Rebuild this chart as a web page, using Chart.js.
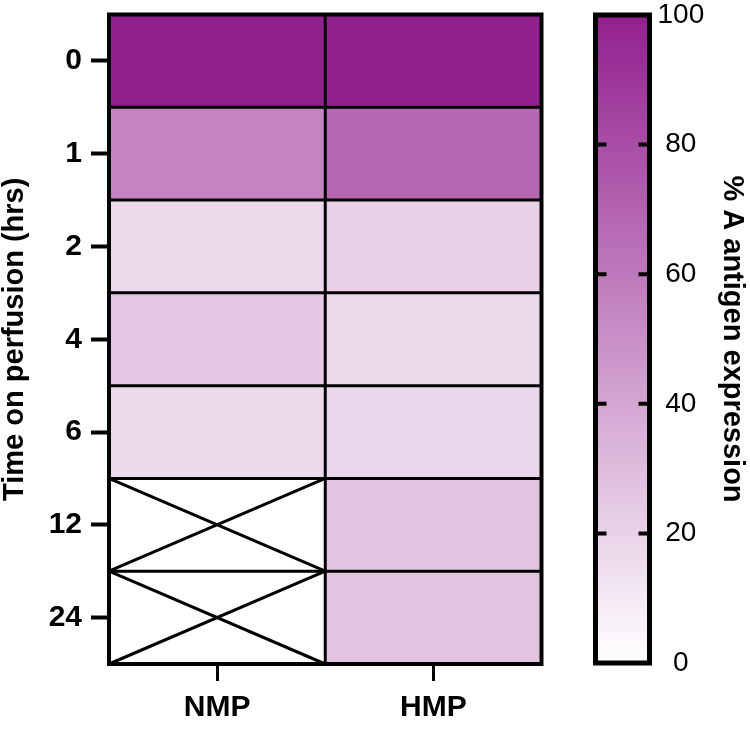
<!DOCTYPE html>
<html>
<head>
<meta charset="utf-8">
<script src="https://cdn.jsdelivr.net/npm/chart.js@4/dist/chart.umd.min.js"></script>
<style>
  html, body { margin: 0; padding: 0; background: #fff; }
  body { width: 750px; height: 730px; position: relative; overflow: hidden; }
  #heat { position: absolute; left: 0; top: 0; }
  #bar { position: absolute; left: 560px; top: 0; }
</style>
</head>
<body>
<canvas id="heat" width="560" height="730"></canvas>
<canvas id="bar" width="190" height="730"></canvas>
<script>
/* ---------- data ---------- */
const groups = ["NMP", "HMP"];
const timeLabels = ["0", "1", "2", "4", "6", "12", "24"];
const nmpValues = [100, 55, 17, 24, 17, null, null];
const hmpValues = [100, 68, 21, 17, 18, 26, 26];
const scaleTicks = [0, 20, 40, 60, 80, 100];

const LOW = [255, 255, 255];
const HIGH = [146, 32, 143];
const FONT = "'Liberation Sans', Arial, Helvetica, sans-serif";

Chart.defaults.font.family = FONT;
Chart.defaults.color = "#000";

const colorFor = (v) => {
  if (v == null) return "rgba(0,0,0,0)";
  const t = Math.max(0, Math.min(1, v / 100));
  const c = LOW.map((lo, k) => Math.round(lo + (HIGH[k] - lo) * t));
  return `rgb(${c[0]},${c[1]},${c[2]})`;
};

const columns = [nmpValues, hmpValues];

// stop chart.js from adding room for half-labels at the ends
const noEdgePad = (s) => { s.paddingTop = 0; s.paddingBottom = 0; s.paddingLeft = 0; s.paddingRight = 0; };

/* ---------- heatmap ---------- */
const gridPlugin = {
  id: "cellGrid",
  afterDatasetsDraw(chart) {
    const { ctx, chartArea: a, scales: { x, y } } = chart;
    ctx.save();
    ctx.strokeStyle = "#000";
    ctx.lineCap = "butt";

    // missing cells get a cross
    ctx.lineWidth = 3;
    columns.forEach((vals, j) => {
      vals.forEach((v, i) => {
        if (v != null) return;
        const x0 = x.getPixelForValue(j - 0.5), x1 = x.getPixelForValue(j + 0.5);
        const y0 = y.getPixelForValue(i), y1 = y.getPixelForValue(i + 1);
        ctx.beginPath();
        ctx.moveTo(x0, y0); ctx.lineTo(x1, y1);
        ctx.moveTo(x1, y0); ctx.lineTo(x0, y1);
        ctx.stroke();
      });
    });

    // cell borders
    ctx.lineWidth = 3;
    ctx.beginPath();
    for (let i = 1; i < timeLabels.length; i++) {
      const py = y.getPixelForValue(i);
      ctx.moveTo(a.left, py); ctx.lineTo(a.right, py);
    }
    for (let j = 1; j < groups.length; j++) {
      const px = x.getPixelForValue(j - 0.5);
      ctx.moveTo(px, a.top); ctx.lineTo(px, a.bottom);
    }
    ctx.stroke();

    ctx.lineWidth = 4;
    ctx.strokeRect(a.left, a.top, a.right - a.left, a.bottom - a.top);
    ctx.restore();
  },
};

new Chart(document.getElementById("heat"), {
  type: "bar",
  data: {
    labels: groups,
    datasets: timeLabels.map((t, i) => ({
      label: t,
      data: columns.map((vals) => (vals[i] == null ? null : [i, i + 1])),
      backgroundColor: columns.map((vals) => colorFor(vals[i])),
      borderWidth: 0,
      grouped: false,
      barPercentage: 1,
      categoryPercentage: 1,
    })),
  },
  options: {
    responsive: false,
    animation: false,
    layout: { padding: { top: 14.5, right: 18.5, left: 0, bottom: 0 } },
    plugins: { legend: { display: false }, tooltip: { enabled: false } },
    scales: {
      x: {
        type: "category",
        offset: true,
        grid: {
          display: true, drawOnChartArea: false, offset: false,
          drawTicks: true, tickLength: 17, tickWidth: 3, tickColor: "#000",
        },
        border: { display: false },
        ticks: { font: { size: 30, weight: "bold" }, color: "#000", padding: 9, maxRotation: 0 },
        afterFit: (s) => { s.height = 66; noEdgePad(s); },
      },
      y: {
        type: "linear",
        min: 0,
        max: timeLabels.length,
        reverse: true,
        afterBuildTicks: (s) => { s.ticks = timeLabels.map((_, i) => ({ value: i + 0.5 })); },
        grid: {
          display: true, drawOnChartArea: false,
          drawTicks: true, tickLength: 18, tickWidth: 4, tickColor: "#000",
        },
        border: { display: false },
        ticks: {
          autoSkip: false,
          font: { size: 30, weight: "bold" },
          color: "#000",
          padding: 9,
          callback: (v, idx) => timeLabels[idx],
        },
        title: {
          display: true,
          text: "Time on perfusion (hrs)",
          font: { size: 29, weight: "bold", lineHeight: 1 },
          color: "#000",
          padding: 0,
        },
        afterFit: (s) => { s.width = 109; noEdgePad(s); },
      },
    },
  },
  plugins: [gridPlugin],
});

/* ---------- colour scale ---------- */
const barFrame = {
  id: "barFrame",
  afterDatasetsDraw(chart) {
    const { ctx, chartArea: a, scales: { y } } = chart;
    ctx.save();
    ctx.strokeStyle = "#000";
    ctx.lineWidth = 4;
    ctx.beginPath();
    scaleTicks.slice(1, -1).forEach((v) => {
      const py = y.getPixelForValue(v);
      ctx.moveTo(a.left, py); ctx.lineTo(a.left + 11, py);
      ctx.moveTo(a.right - 11, py); ctx.lineTo(a.right, py);
    });
    ctx.stroke();
    ctx.lineWidth = 5;
    ctx.strokeRect(a.left, a.top, a.right - a.left, a.bottom - a.top);
    ctx.restore();
  },
};

new Chart(document.getElementById("bar"), {
  type: "bar",
  data: {
    labels: [""],
    datasets: [{
      data: [[scaleTicks[0], scaleTicks[scaleTicks.length - 1]]],
      backgroundColor: (c) => {
        const { chart } = c;
        if (!chart.chartArea) return colorFor(50);
        const y = chart.scales.y;
        const g = chart.ctx.createLinearGradient(0, y.getPixelForValue(0), 0, y.getPixelForValue(100));
        g.addColorStop(0, colorFor(0));
        g.addColorStop(1, colorFor(100));
        return g;
      },
      borderWidth: 0,
      barPercentage: 1,
      categoryPercentage: 1,
    }],
  },
  options: {
    responsive: false,
    animation: false,
    layout: { padding: { top: 15, right: 0, left: 35.5, bottom: 67 } },
    plugins: { legend: { display: false }, tooltip: { enabled: false } },
    scales: {
      x: { display: false, offset: true },
      y: {
        position: "right",
        min: 0,
        max: 100,
        afterBuildTicks: (s) => { s.ticks = scaleTicks.map((v) => ({ value: v })); },
        grid: { display: false, drawTicks: false },
        border: { display: false },
        ticks: { font: { size: 28 }, color: "#000", padding: 8, crossAlign: "center" },
        title: {
          display: true,
          text: "% A antigen expression",
          font: { size: 29, weight: "bold", lineHeight: 1 },
          color: "#000",
          padding: { top: 4, bottom: 0 },
        },
        afterFit: (s) => { s.width = 100.5; noEdgePad(s); },
      },
    },
  },
  plugins: [barFrame],
});
</script>
</body>
</html>
